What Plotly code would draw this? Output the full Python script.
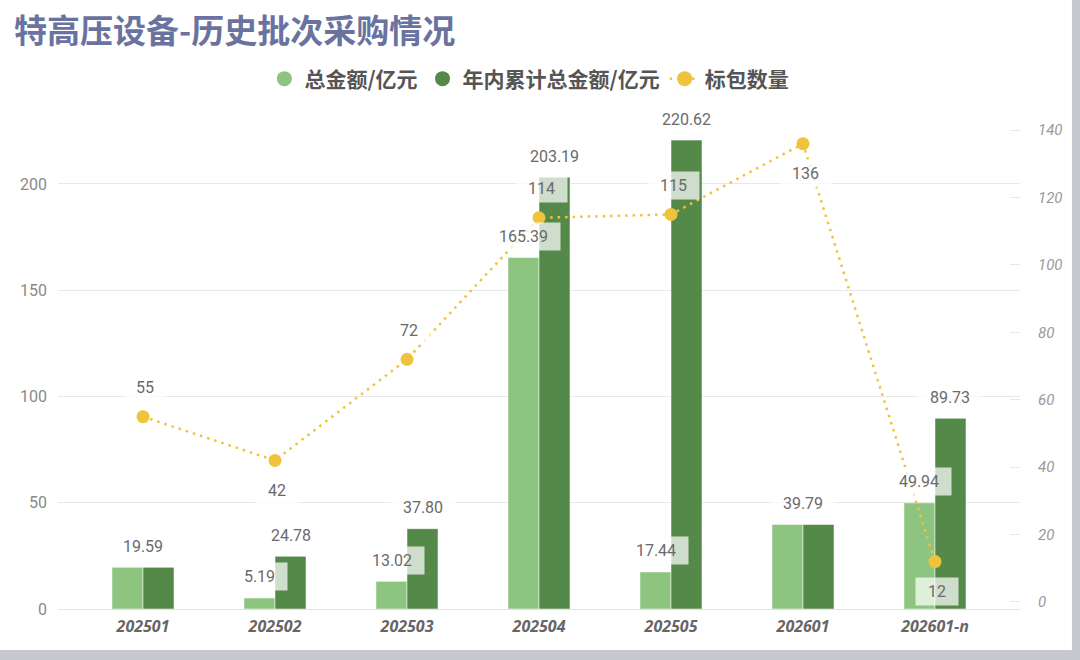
import plotly.graph_objects as go

periods = ['202501', '202502', '202503', '202504', '202505', '202601', '202601-n']
total_amount = [19.59, 5.19, 13.02, 165.39, 17.44, 39.79, 49.94]
cumulative_amount = [19.59, 24.78, 37.80, 203.19, 220.62, 39.79, 89.73]
package_count = [55, 42, 72, 114, 115, 136, 12]

# which side of the marker the count label sits on
count_label_side = ['above', 'below', 'above', 'above', 'above', 'below', 'below']

LIGHT = '#8dc47f'
DARK = '#55894a'
YELLOW = '#efc43c'
LABEL_FONT = dict(family='Roboto', size=16, color='#6a6a6a')
LABEL_BG = 'rgba(255,255,255,0.72)'


def box_width(text):
    # label boxes are a bit wider than the text itself
    return sum(4 if ch == '.' else 9 for ch in text) + 16


def bar_labels(fig):
    # category index as x, so labels like '202501' are not read as numbers
    for i, (a, c) in enumerate(zip(total_amount, cumulative_amount)):
        if a == c:
            items = [(a, 0)]
        else:
            items = [(a, -15.5), (c, 15.5)]
        for v, dx in items:
            t = f'{v:.2f}'
            fig.add_annotation(x=i, y=v, xref='x', yref='y', text=t, width=box_width(t),
                               showarrow=False, xshift=dx, yshift=21, yanchor='middle',
                               font=LABEL_FONT, bgcolor=LABEL_BG, borderpad=4)


def count_labels(fig):
    for i, (n, side) in enumerate(zip(package_count, count_label_side)):
        t = str(n)
        fig.add_annotation(x=i, y=n, xref='x', yref='y2', text=t, width=box_width(t),
                           showarrow=False, xshift=2,
                           yshift=29 if side == 'above' else -30, yanchor='middle',
                           font=LABEL_FONT, bgcolor=LABEL_BG, borderpad=4)


fig = go.Figure()

fig.add_trace(go.Bar(x=periods, y=total_amount, name='总金额/亿元', marker_color=LIGHT,
                     marker_line=dict(color='rgba(255,255,255,0.5)', width=1), showlegend=False))
fig.add_trace(go.Bar(x=periods, y=cumulative_amount, name='年内累计总金额/亿元', marker_color=DARK,
                     marker_line=dict(color='rgba(255,255,255,0.5)', width=1), showlegend=False))
fig.add_trace(go.Scatter(x=periods, y=package_count, name='标包数量', yaxis='y2',
                         mode='lines+markers', line=dict(color=YELLOW, width=2.5, dash='2.5px,5px'),
                         marker=dict(size=13, color=YELLOW), showlegend=False))

# legend entries drawn as circles
for name, color in [('总金额/亿元', LIGHT), ('年内累计总金额/亿元', DARK)]:
    fig.add_trace(go.Scatter(x=[None], y=[None], name=name, mode='markers',
                             marker=dict(size=15, color=color, symbol='circle')))
fig.add_trace(go.Scatter(x=[None], y=[None], name='标包数量', mode='lines+markers',
                         line=dict(color=YELLOW, width=2.5, dash='2.5px,5px'),
                         marker=dict(size=15, color=YELLOW)))

bar_labels(fig)
count_labels(fig)

# white card on a grey page
fig.add_shape(type='rect', xref='paper', yref='paper', x0=-0.07, x1=1.0540, y0=-0.0806, y1=1.2,
              fillcolor='white', line_width=0, layer='below')

fig.update_layout(
    width=1080, height=660,
    margin=dict(l=58, r=60, t=100, b=51),
    paper_bgcolor='#c5c8cd',
    plot_bgcolor='white',
    barmode='group', bargap=0.53, bargroupgap=0,
    title=dict(text='特高压设备-历史批次采购情况', x=14 / 1080, xref='container', xanchor='left',
               y=1 - 31 / 660, yref='container', yanchor='middle',
               font=dict(family='Noto Sans CJK SC', size=33, color='#6a73a0', weight='bold')),
    legend=dict(orientation='h', x=0.49, xanchor='center', y=1 + 21 / 509, yanchor='middle',
                font=dict(family='Noto Sans CJK SC', size=21, color='#555555', weight='bold'),
                bgcolor='rgba(0,0,0,0)', itemwidth=30, tracegroupgap=0),
    xaxis=dict(range=[-0.644, 6.644], showgrid=False, showline=False, ticks='',
               ticklabelstandoff=6,
               tickfont=dict(family='Open Sans', size=16, color='#666666', weight='bold', style='italic')),
    yaxis=dict(range=[0, 239.5], dtick=50, showgrid=True, gridcolor='#e8e8e8', gridwidth=1,
               zeroline=True, zerolinecolor='#e3e3e3', zerolinewidth=1, showline=False,
               tickfont=dict(family='Roboto', size=16, color='#8a8a8a'), ticklabelstandoff=10),
    yaxis2=dict(range=[-2.08, 148.96], dtick=20, overlaying='y', side='right', showgrid=False,
                zeroline=False, showline=False, ticks='inside', ticklen=10, tickcolor='#e6e6e6',
                tickfont=dict(family='Roboto', size=15, color='#9a9a9a', style='italic'),
                ticklabelstandoff=17),
    hovermode=False,
)

# the page body has a default 8px margin; drop it so the figure fills the window
fig.write_html('out.html', config={'displayModeBar': False},
               post_script="document.body.style.margin='0';")
